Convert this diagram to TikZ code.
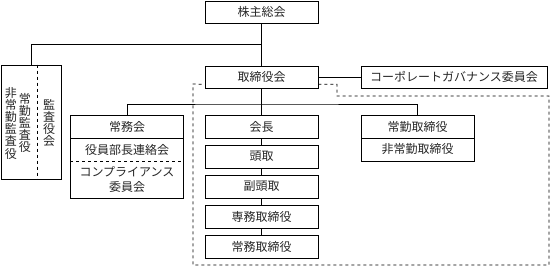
\documentclass[tikz,border=0pt]{standalone}
\usepackage{fontspec}
\newfontfamily\jpfont{Noto Sans CJK JP}
\usepackage{tikz}
\usetikzlibrary{positioning}

\tikzset{
    box/.style={draw, line width=0.7pt, inner sep=0pt, minimum width=113pt, minimum height=23pt},
    cell/.style={inner sep=0pt, minimum width=113pt, minimum height=23pt, align=center},
    vcol/.style={inner sep=0pt, align=center, font=\jpfont\fontsize{12pt}{12.2pt}\selectfont},
    link/.style={line width=0.7pt}
}

\begin{document}
\begin{tikzpicture}[x=1pt, y=-1pt, font=\jpfont\fontsize{12pt}{14.5pt}\selectfont, text=black!85]
        \useasboundingbox (0,0) rectangle (550,267);

        % Top level
        \node[box, minimum height=22pt] (kabu) at (261.5,12) {株主総会};
        \node[box, minimum height=22pt] (tori) at (261.5,77) {取締役会};
        \node[box, minimum width=186pt, minimum height=22pt] (cg) at (454,77) {コーポレートガバナンス委員会};

        % Audit board
        \node[draw, line width=0.7pt, minimum width=60pt, minimum height=114pt, inner sep=0pt] (kansa) at (31,122) {};
        \node[vcol] (hijokinkansa) at (11,123) {非\\常\\勤\\監\\査\\役};
        \node[vcol] (jokinkansa) at (25,123) {常\\勤\\監\\査\\役};
        \node[vcol] (kansakai) at (49,123) {監\\査\\役\\会};
        \draw[dashed, line width=0.7pt] ([xshift=37pt]kansa.north west) -- ([xshift=37pt]kansa.south west);

        % Executive committee group
        \node[box] (jomukai) at (127,126.5) {常務会};
        \node[cell] (renraku) at (127,149.5) {役員部長連絡会};
        \node[cell, minimum height=37pt] (comp) at (127,179.5) {コンプライアンス\\委員会};
        \draw[link] (jomukai.south west) rectangle (comp.south east);
        \draw[dashed, line width=0.7pt] (renraku.south west) -- (renraku.south east);

        % Chairman column
        \foreach \name/\label/\y in {kaicho/会長/126.5, todori/頭取/156.5, fuku/副頭取/186.5, senmu/専務取締役/216.5, jomutori/常務取締役/246.5}
            \node[box] (\name) at (261.5,\y) {\label};
        \foreach \a/\b in {kaicho/todori, todori/fuku, fuku/senmu, senmu/jomutori}
            \draw[link] (\a) -- (\b);

        % Directors group
        \node[box] (jokin) at (417.5,126.5) {常勤取締役};
        \node[box] (hijokin) at (417.5,149.5) {非常勤取締役};

        % Connectors
        \coordinate (j1) at (261.5,44);
        \coordinate (j2) at (261.5,104);
        \draw[link] (kabu) -- (tori);
        \draw[link] (kansa.north) |- (j1);
        \draw[link] (tori) -- (cg);
        \draw[link] (tori) -- (kaicho);
        \draw[link] (jomukai.north) |- (j2) -| (jokin.north);

        % Dashed frame
        \draw[dashed, line width=0.7pt] ([yshift=4pt]tori.south east) -| (337,96) -| (549,265) -| (193,84) -- ([yshift=4pt]tori.south west);
    \end{tikzpicture}
\end{document}
